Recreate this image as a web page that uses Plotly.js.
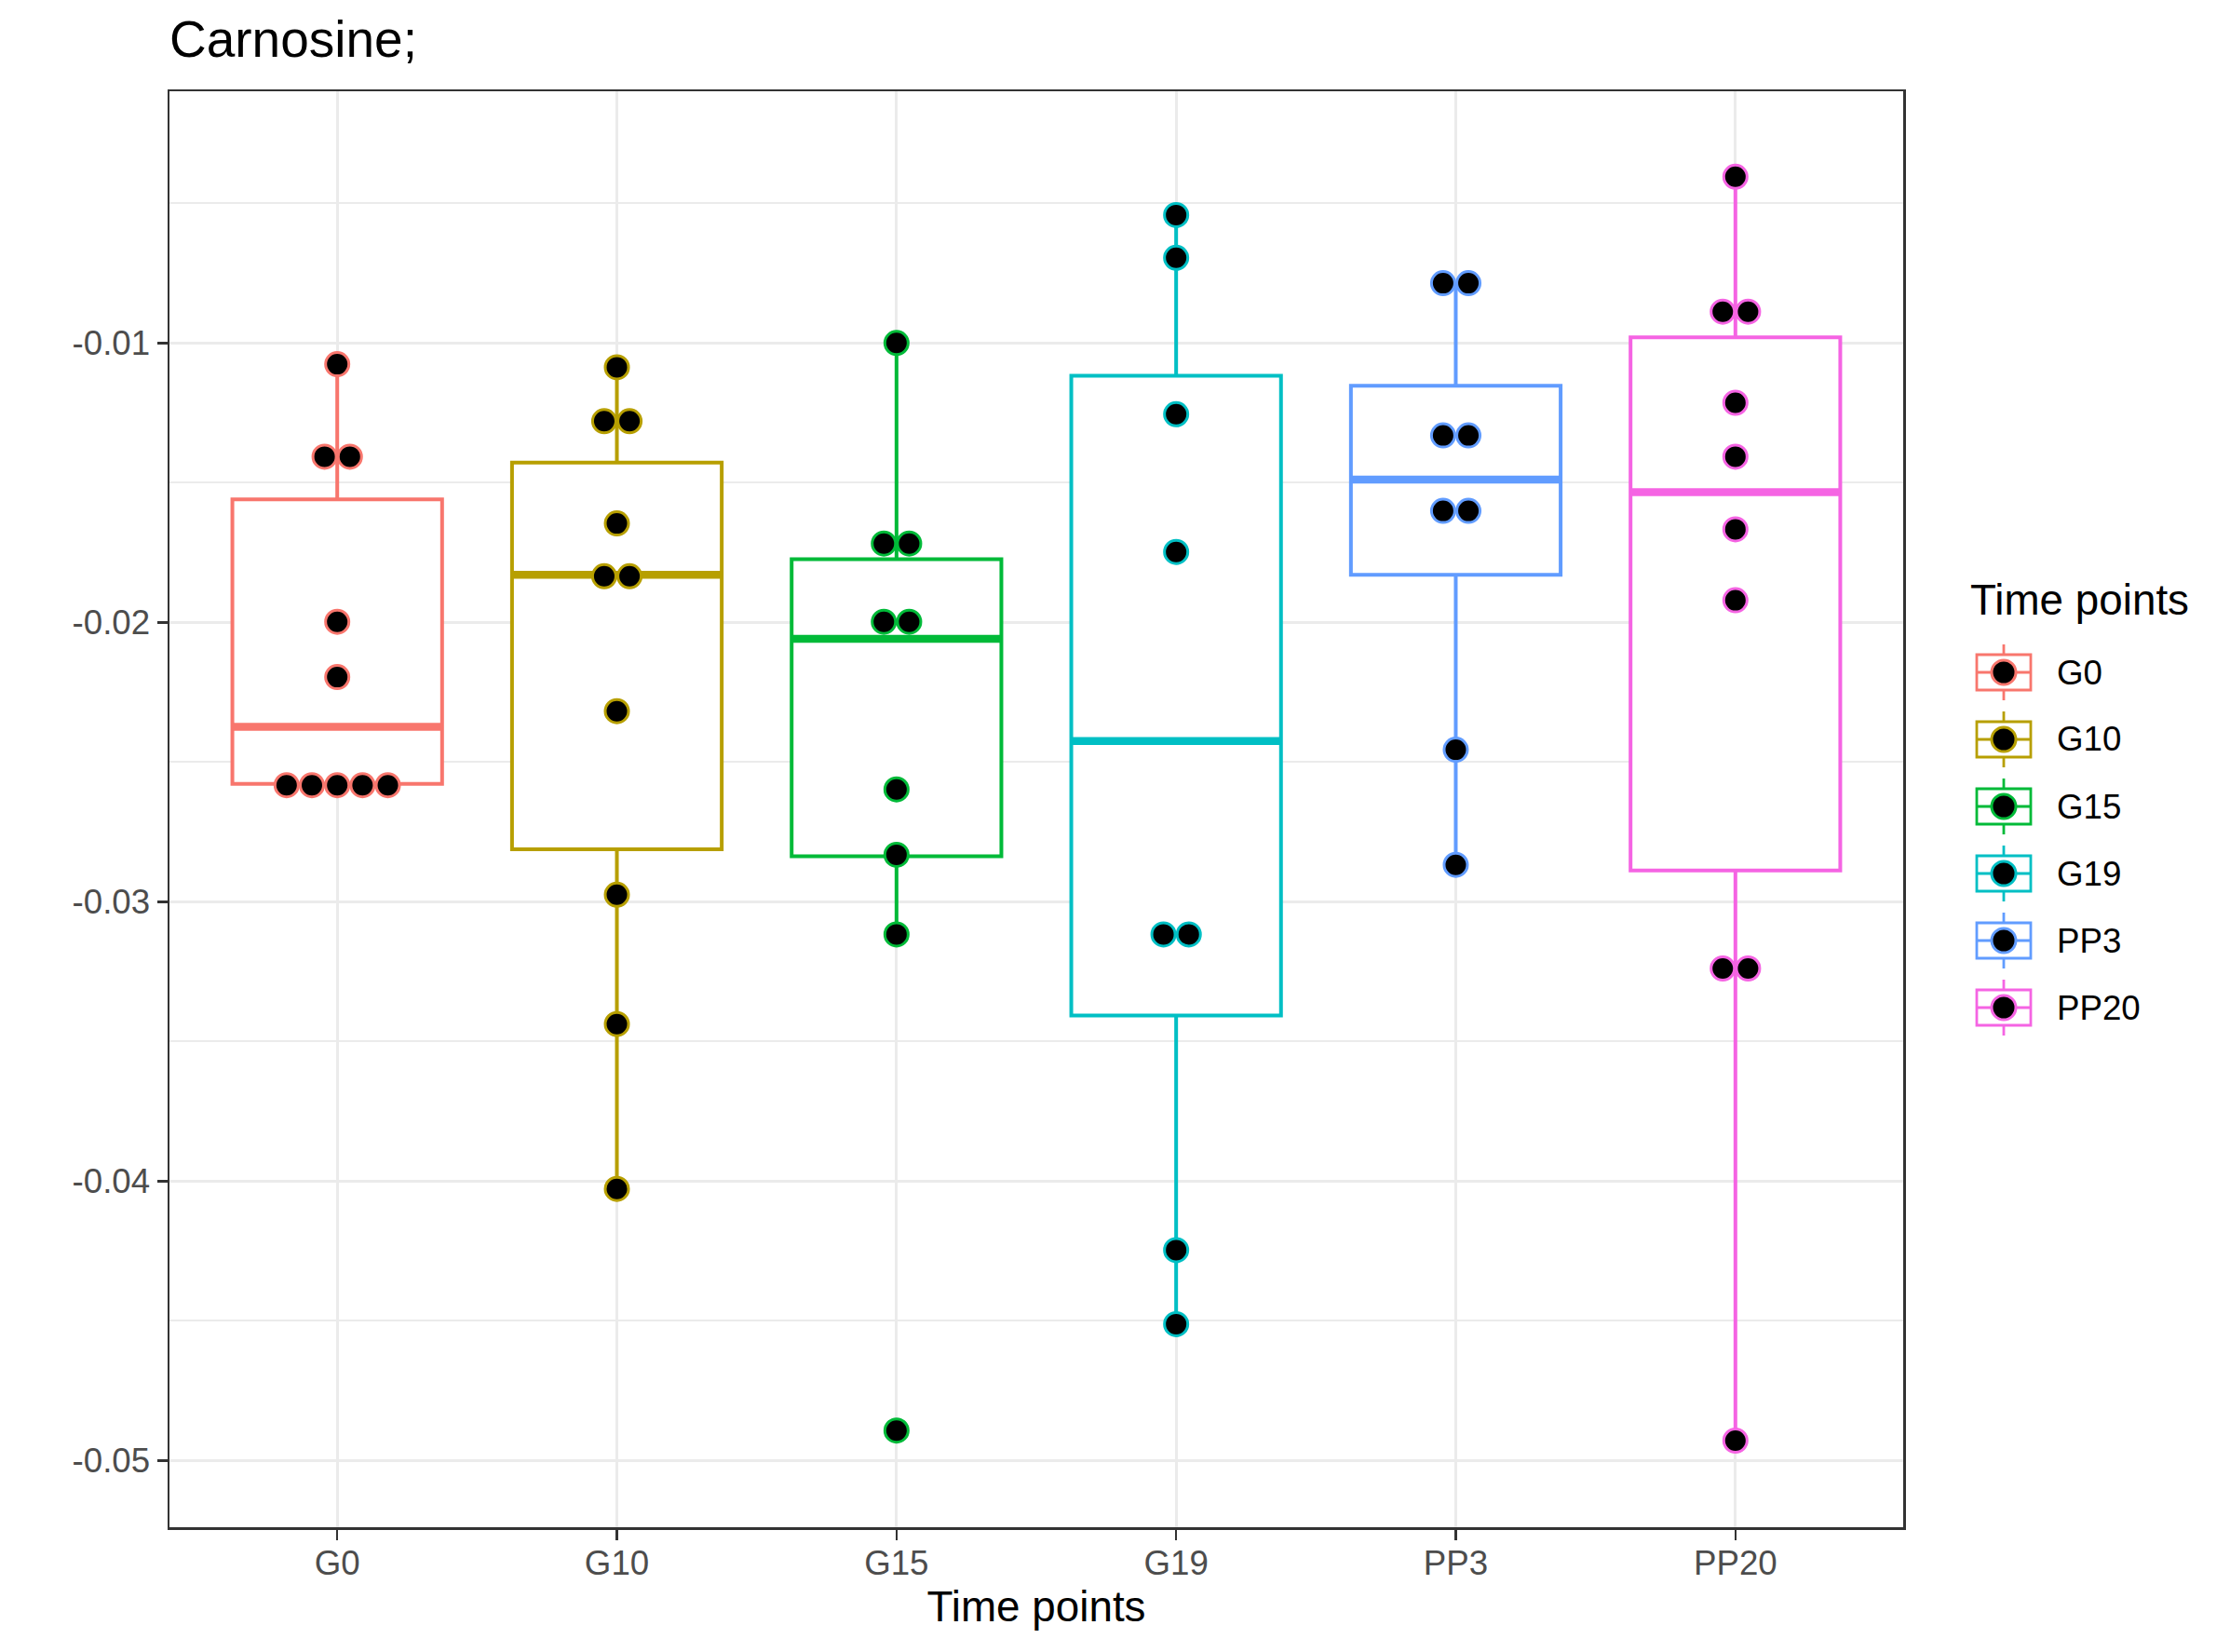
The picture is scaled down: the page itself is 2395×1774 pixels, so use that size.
<!DOCTYPE html>
<html><head><meta charset="utf-8">
<script src="https://cdn.plot.ly/plotly-3.0.1.min.js"></script>
<style>html,body{margin:0;padding:0;background:#fff}</style>
</head><body><div id="chart" style="width:2395px;height:1774px"></div>
<script>
// ---- data ----
const categories = ['G0', 'G10', 'G15', 'G19', 'PP3', 'PP20'];
const colors = ['#F8766D', '#B79F00', '#00BA38', '#00BFC4', '#619CFF', '#F564E3'];

// dot values per group (dotplot bin centres)
const dotsG0 = [-0.01076, -0.01407, -0.01407, -0.01998, -0.02196, -0.02583, -0.02583, -0.02583, -0.02583, -0.02583];
const dotsG10 = [-0.01087, -0.01280, -0.01280, -0.01646, -0.01835, -0.01835, -0.02318, -0.02975, -0.03438, -0.04028];
const dotsG15 = [-0.01000, -0.01718, -0.01718, -0.01998, -0.01998, -0.02598, -0.02832, -0.03117, -0.04893];
const dotsG19 = [-0.00542, -0.00695, -0.01255, -0.01748, -0.03117, -0.03117, -0.04247, -0.04512];
const dotsPP3 = [-0.00786, -0.00786, -0.01331, -0.01331, -0.01601, -0.01601, -0.02456, -0.02868];
const dotsPP20 = [-0.00405, -0.00888, -0.00888, -0.01214, -0.01407, -0.01667, -0.01921, -0.03239, -0.03239, -0.04929];

// box statistics per group
const boxLower  = [-0.02578, -0.04028, -0.03117, -0.04512, -0.02868, -0.04929];
const boxQ1     = [-0.02578, -0.02812, -0.02837, -0.03407, -0.01830, -0.02888];
const boxMedian = [-0.02374, -0.01830, -0.02059, -0.02425, -0.01489, -0.01534];
const boxQ3     = [-0.01560, -0.01428, -0.01774, -0.01117, -0.01153, -0.00980];
const boxUpper  = [-0.01076, -0.01087, -0.01000, -0.00542, -0.00786, -0.00405];

const yTickVals = [-0.05, -0.04, -0.03, -0.02, -0.01];
const yTickText = ['-0.05', '-0.04', '-0.03', '-0.02', '-0.01'];
const yMinorVals = [-0.045, -0.035, -0.025, -0.015, -0.005];

const titleText = 'Carnosine;';
const xTitle = 'Time points';
const legendTitle = 'Time points';

// ---- build ----
const groups = [dotsG0, dotsG10, dotsG15, dotsG19, dotsPP3, dotsPP20];
const FONT = 'Liberation Sans, Arial, Helvetica, sans-serif';
const BOXW = 0.75, DOTSTEP = 0.0905;
const traces = [];

categories.forEach((c, i) => {
  traces.push({
    type: 'box', x: [i], q1: [boxQ1[i]], median: [boxMedian[i]], q3: [boxQ3[i]],
    lowerfence: [boxLower[i]], upperfence: [boxUpper[i]],
    width: BOXW, whiskerwidth: 0, boxpoints: false,
    line: {color: colors[i], width: 4}, fillcolor: 'rgba(255,255,255,1)',
    showlegend: false, hoverinfo: 'skip'
  });
});
categories.forEach((c, i) => {
  traces.push({
    type: 'scatter', mode: 'lines', x: [i - BOXW / 2, i + BOXW / 2], y: [boxMedian[i], boxMedian[i]],
    line: {color: colors[i], width: 8.5}, showlegend: false, hoverinfo: 'skip'
  });
});
groups.forEach((vals, i) => {
  const counts = {}, seen = {};
  vals.forEach(v => { counts[v] = (counts[v] || 0) + 1; });
  const xs = [], ys = [];
  vals.forEach(v => {
    const k = seen[v] || 0; seen[v] = k + 1;
    xs.push(i + (k - (counts[v] - 1) / 2) * DOTSTEP);
    ys.push(v);
  });
  traces.push({
    type: 'scatter', mode: 'markers', x: xs, y: ys,
    marker: {color: '#000000', size: 25, line: {color: colors[i], width: 3}},
    showlegend: false, hoverinfo: 'skip', cliponaxis: false
  });
});

// ---- layout geometry (pixels) ----
const W = 2395, H = 1774, ML = 182, MR = 351, MT = 98, MB = 134;
const PW = W - ML - MR, PH = H - MT - MB;
const px = x => (x - ML) / PW;
const py = y => (H - MB - y) / PH;

const shapes = [], annotations = [];
annotations.push({xref: 'paper', yref: 'paper', x: px(2114), y: py(644), text: legendTitle,
  showarrow: false, xanchor: 'left', yanchor: 'middle', font: {family: FONT, size: 45.8, color: '#000'}});
categories.forEach((c, i) => {
  const cy = 722 + i * 72, cx = 2152;
  const col = colors[i];
  shapes.push({type: 'line', xref: 'paper', yref: 'paper', x0: px(cx), x1: px(cx), y0: py(cy - 30), y1: py(cy + 30), line: {color: col, width: 2.8}});
  shapes.push({type: 'rect', xref: 'paper', yref: 'paper', x0: px(cx - 29), x1: px(cx + 29), y0: py(cy - 19), y1: py(cy + 19), line: {color: col, width: 2.8}, fillcolor: '#fff'});
  shapes.push({type: 'line', xref: 'paper', yref: 'paper', x0: px(cx - 29), x1: px(cx + 29), y0: py(cy), y1: py(cy), line: {color: col, width: 2.8}});
  shapes.push({type: 'circle', xref: 'paper', yref: 'paper', x0: px(cx - 13), x1: px(cx + 13), y0: py(cy - 13), y1: py(cy + 13), line: {color: col, width: 3}, fillcolor: '#000'});
  annotations.push({xref: 'paper', yref: 'paper', x: px(2207), y: py(cy), text: c, showarrow: false,
    xanchor: 'left', yanchor: 'middle', font: {family: FONT, size: 36.7, color: '#000'}});
});

const axisCommon = {
  showline: true, mirror: true, linecolor: '#333333', linewidth: 2.5,
  ticks: 'outside', ticklen: 11, tickwidth: 2.5, tickcolor: '#333333',
  tickfont: {family: FONT, size: 36.7, color: '#4D4D4D'},
  showgrid: true, gridcolor: '#EBEBEB', gridwidth: 3.3, zeroline: false
};

const layout = {
  width: W, height: H, margin: {l: ML, r: MR, t: MT, b: MB, pad: 0},
  paper_bgcolor: '#fff', plot_bgcolor: '#fff', showlegend: false,
  font: {family: FONT},
  title: {text: titleText, xref: 'paper', x: 0, xanchor: 'left', yref: 'container', y: 1 - 42 / H, yanchor: 'middle',
    font: {family: FONT, size: 55, color: '#000'}},
  xaxis: Object.assign({}, axisCommon, {
    range: [-0.6, 5.6], tickmode: 'array', tickvals: categories.map((c, i) => i), ticktext: categories,
    ticklabelstandoff: -7,
    title: {text: xTitle, standoff: 12, font: {family: FONT, size: 45.8, color: '#000'}}
  }),
  yaxis: Object.assign({}, axisCommon, {
    range: [-0.05239, -0.00099], tickmode: 'array', tickvals: yTickVals, ticktext: yTickText,
    minor: {tickmode: 'array', tickvals: yMinorVals, showgrid: true, gridcolor: '#EBEBEB', gridwidth: 1.8, ticks: ''}
  }),
  shapes: shapes, annotations: annotations
};

Plotly.newPlot('chart', traces, layout, {staticPlot: true, displayModeBar: false});
</script></body></html>
